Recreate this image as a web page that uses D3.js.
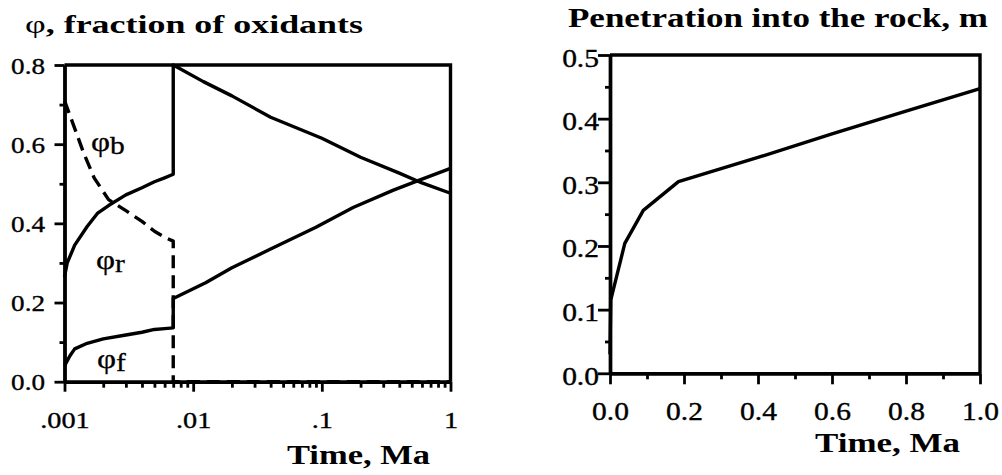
<!DOCTYPE html>
<html>
<head>
<meta charset="utf-8">
<script src="https://cdn.jsdelivr.net/npm/d3@7"></script>
<style>
  body { margin: 0; background: #fff; }
  svg { display: block; }
  text { font-family: "Liberation Serif", "Times New Roman", Times, serif; fill: #000; }
</style>
</head>
<body>
<svg id="fig" width="1002" height="475"></svg>
<script>
// ---- Oxidant fractions (time in Ma); each series jumps at t = 0.007 Ma
const phiR_time = [0.001, 0.00105, 0.0012, 0.0015, 0.0018, 0.0022, 0.003, 0.004, 0.005, 0.006, 0.007,
                   0.007, 0.012, 0.02, 0.04, 0.1, 0.2, 0.4, 0.6, 1];
const phiR_val  = [0.265, 0.30, 0.345, 0.392, 0.425, 0.445, 0.472, 0.49, 0.505, 0.515, 0.524,
                   0.80, 0.758, 0.722, 0.668, 0.615, 0.567, 0.527, 0.502, 0.476];

const phiB_time = [0.001, 0.0012, 0.0014, 0.0017, 0.0022, 0.003, 0.004, 0.005, 0.006, 0.007, 0.007, 1];
const phiB_val  = [0.71, 0.64, 0.58, 0.515, 0.46, 0.432, 0.405, 0.38, 0.365, 0.355, 0, 0];

const phiF_time = [0.001, 0.0011, 0.0012, 0.0015, 0.002, 0.003, 0.004, 0.005, 0.006, 0.007,
                   0.007, 0.0125, 0.02, 0.04, 0.09, 0.175, 0.36, 0.56, 1];
const phiF_val  = [0.04, 0.065, 0.083, 0.097, 0.108, 0.118, 0.125, 0.132, 0.134, 0.136,
                   0.21, 0.25, 0.288, 0.335, 0.39, 0.44, 0.484, 0.508, 0.539];

const phiTimeTicks  = [0.001, 0.01, 0.1, 1];
const phiTimeLabels = [".001", ".01", ".1", "1"];
const phiTicks      = [0, 0.2, 0.4, 0.6, 0.8];
const phiMinorTicks = [0.1, 0.3, 0.5, 0.7];

// ---- Penetration depth into the rock (m) vs time (Ma)
const pen_time  = [0, 0.002, 0.04, 0.09, 0.185, 0.4, 0.6, 0.8, 1.0];
const pen_depth = [0.03, 0.115, 0.204, 0.256, 0.301, 0.339, 0.376, 0.412, 0.447];

const penTimeTicks   = [0, 0.2, 0.4, 0.6, 0.8, 1.0];
const penTimeMinor   = [0.1, 0.3, 0.5, 0.7, 0.9];
const penDepthTicks  = [0, 0.1, 0.2, 0.3, 0.4, 0.5];
const penDepthMinor  = [0.05, 0.15, 0.25, 0.35, 0.45];

const svg = d3.select("#fig");
const K = 1.18;          // wide typeface look
const LW = 3.4;          // line weight of frames and curves
const TW = 2.8;          // tick weight

function zip(a, b) { return a.map((v, i) => [v, b[i]]); }

function styleAxis(g) {
  g.attr("font-family", null).attr("font-size", null).attr("color", "#000");
  g.select(".domain").attr("stroke-width", LW);
  g.selectAll(".tick line").attr("stroke-width", TW);
}

function labelTicks(g, size, dx, dy, anchor) {
  g.selectAll(".tick text")
    .attr("x", null).attr("y", null).attr("dy", null)
    .attr("text-anchor", anchor)
    .attr("transform", `translate(${dx},${dy}) scale(${K},1)`)
    .attr("stroke", "#000").attr("stroke-width", 0.35)
    .style("font-size", size + "px");
}

// ================= Left panel: fraction of oxidants =================
const xL = d3.scaleLog().domain([0.001, 1]).range([64.5, 450.5]);
const yL = d3.scaleLinear().domain([0, 0.8]).range([381.7, 65]);
const gL = svg.append("g");

// log minor ticks
const minorLog = xL.ticks().filter(t => !phiTimeTicks.some(m => Math.abs(m - t) < 1e-12));
gL.append("g").attr("transform", `translate(0,${yL(0)})`)
  .call(d3.axisBottom(xL).tickValues(minorLog).tickSize(6).tickSizeOuter(0).tickFormat(""))
  .call(styleAxis);
gL.append("g").attr("transform", `translate(0,${yL(0)})`)
  .call(d3.axisBottom(xL).tickValues(phiTimeTicks).tickSize(10).tickSizeOuter(0)
        .tickFormat((d, i) => phiTimeLabels[i]))
  .call(styleAxis)
  .call(g => labelTicks(g, 24, 0, 46, "middle"));

gL.append("g").attr("transform", `translate(${xL(0.001)},0)`)
  .call(d3.axisLeft(yL).tickValues(phiMinorTicks).tickSize(5).tickSizeOuter(0).tickFormat(""))
  .call(styleAxis);
gL.append("g").attr("transform", `translate(${xL(0.001)},0)`)
  .call(d3.axisLeft(yL).tickValues(phiTicks).tickSize(10).tickSizeOuter(0).tickFormat(d3.format(".1f")))
  .call(styleAxis)
  .call(g => labelTicks(g, 23, -19.5, 8, "end"));

// top and right frame
gL.append("path")
  .attr("d", `M${xL(0.001)},${yL(0.8)}H${xL(1)}V${yL(0)}`)
  .attr("fill", "none").attr("stroke", "#000").attr("stroke-width", LW);

const lineL = d3.line().x(d => xL(d[0])).y(d => yL(d[1]));
const curvesL = [
  { data: zip(phiR_time, phiR_val), dash: null },
  { data: zip(phiF_time, phiF_val), dash: null },
  { data: zip(phiB_time, phiB_val), dash: "13,7" }
];
gL.selectAll("path.curve").data(curvesL).join("path")
  .attr("class", "curve")
  .attr("d", d => lineL(d.data))
  .attr("fill", "none").attr("stroke", "#000").attr("stroke-width", LW)
  .attr("stroke-linejoin", "round")
  .attr("stroke-dasharray", d => d.dash);

function phiLabel(x, y, sub) {
  const t = gL.append("text")
    .attr("transform", `translate(${x},${y}) scale(${K},1)`)
    .attr("stroke", "#000").attr("stroke-width", 0.3)
    .style("font-size", "28px");
  t.append("tspan").text("φ");
  t.append("tspan").attr("dy", 3).style("font-size", "25px").text(sub);
}
phiLabel(91, 151, "b");
phiLabel(96, 269, "r");
phiLabel(97, 368, "f");

// titles
const tL = svg.append("text").attr("x", 25).attr("y", 33)
  .attr("textLength", 338).attr("lengthAdjust", "spacingAndGlyphs")
  .style("font-size", "25px").style("font-weight", "bold");
tL.append("tspan").style("font-weight", "normal").text("φ");
tL.append("tspan").text(", fraction of oxidants");

svg.append("text").attr("x", 287).attr("y", 464)
  .attr("textLength", 143).attr("lengthAdjust", "spacingAndGlyphs")
  .style("font-size", "28px").style("font-weight", "bold").text("Time, Ma");

// ================= Right panel: penetration into the rock =================
const xR = d3.scaleLinear().domain([0, 1]).range([610, 980]);
const yR = d3.scaleLinear().domain([0, 0.5]).range([373.3, 55]);
const gR = svg.append("g");

gR.append("g").attr("transform", `translate(0,${yR(0)})`)
  .call(d3.axisBottom(xR).tickValues(penTimeMinor).tickSize(6).tickSizeOuter(0).tickFormat(""))
  .call(styleAxis);
gR.append("g").attr("transform", `translate(0,${yR(0)})`)
  .call(d3.axisBottom(xR).tickValues(penTimeTicks).tickSize(11).tickSizeOuter(0).tickFormat(d3.format(".1f")))
  .call(styleAxis)
  .call(g => labelTicks(g, 25, 0, 47, "middle"));

gR.append("g").attr("transform", `translate(${xR(0)},0)`)
  .call(d3.axisLeft(yR).tickValues(penDepthMinor).tickSize(5).tickSizeOuter(0).tickFormat(""))
  .call(styleAxis);
gR.append("g").attr("transform", `translate(${xR(0)},0)`)
  .call(d3.axisLeft(yR).tickValues(penDepthTicks).tickSize(12).tickSizeOuter(0).tickFormat(d3.format(".1f")))
  .call(styleAxis)
  .call(g => labelTicks(g, 25, -11, 11, "end"));

gR.append("path")
  .attr("d", `M${xR(0)},${yR(0.5)}H${xR(1)}V${yR(0)}`)
  .attr("fill", "none").attr("stroke", "#000").attr("stroke-width", LW);

const lineR = d3.line().x(d => xR(d[0])).y(d => yR(d[1]));
gR.append("path").datum(zip(pen_time, pen_depth))
  .attr("d", lineR)
  .attr("fill", "none").attr("stroke", "#000").attr("stroke-width", LW)
  .attr("stroke-linejoin", "round");

svg.append("text").attr("x", 568).attr("y", 27)
  .attr("textLength", 420).attr("lengthAdjust", "spacingAndGlyphs")
  .style("font-size", "27px").style("font-weight", "bold")
  .text("Penetration into the rock, m");

svg.append("text").attr("x", 815).attr("y", 452)
  .attr("textLength", 145).attr("lengthAdjust", "spacingAndGlyphs")
  .style("font-size", "28px").style("font-weight", "bold").text("Time, Ma");
</script>
</body>
</html>
